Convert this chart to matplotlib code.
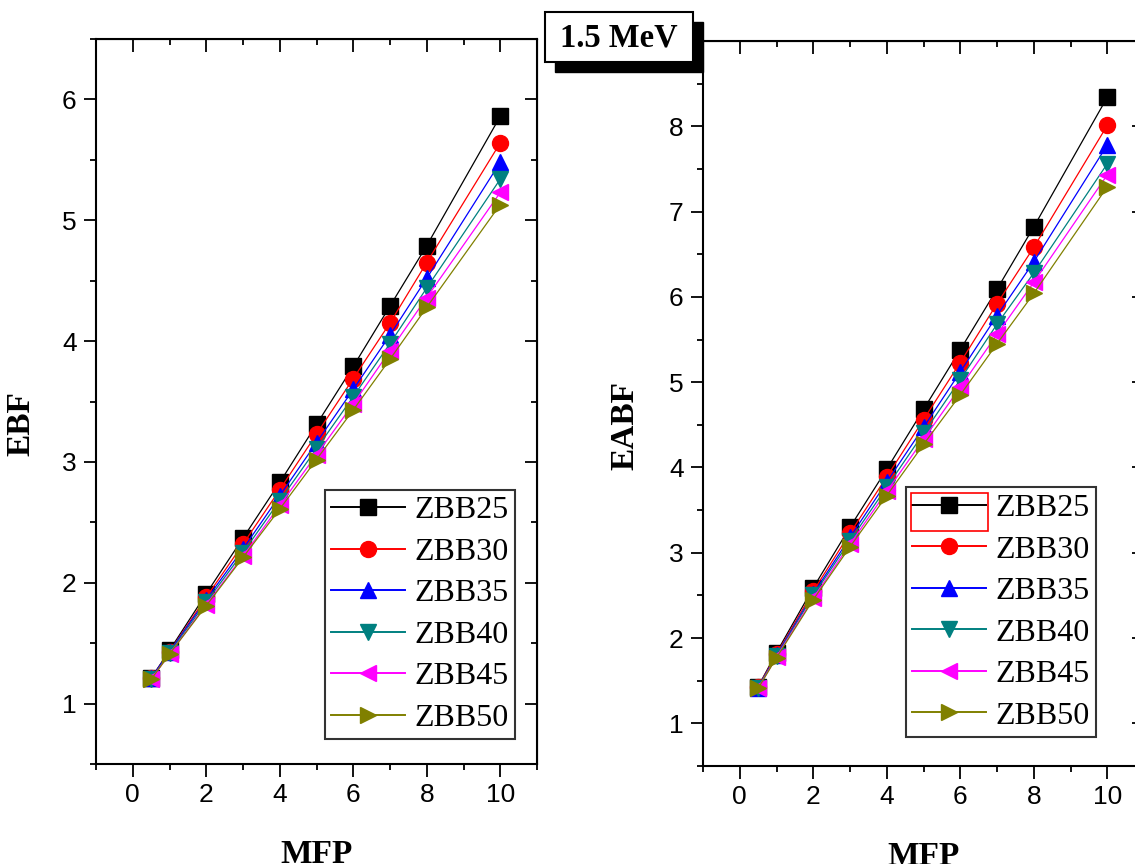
import matplotlib
matplotlib.use("Agg")
import matplotlib.pyplot as plt
from matplotlib.patches import Rectangle
from matplotlib.ticker import MultipleLocator

# data
mfp = [0.5, 1, 2, 3, 4, 5, 6, 7, 8, 10]
names = ['ZBB25', 'ZBB30', 'ZBB35', 'ZBB40', 'ZBB45', 'ZBB50']

ebf_zbb25 = [1.21, 1.44, 1.91, 2.37, 2.83, 3.31, 3.79, 4.29, 4.79, 5.86]
ebf_zbb30 = [1.21, 1.43, 1.88, 2.32, 2.77, 3.23, 3.69, 4.15, 4.65, 5.64]
ebf_zbb35 = [1.21, 1.43, 1.86, 2.28, 2.72, 3.16, 3.60, 4.05, 4.52, 5.48]
ebf_zbb40 = [1.20, 1.42, 1.84, 2.25, 2.68, 3.11, 3.54, 3.98, 4.44, 5.34]
ebf_zbb45 = [1.20, 1.41, 1.82, 2.22, 2.64, 3.06, 3.48, 3.92, 4.36, 5.23]
ebf_zbb50 = [1.20, 1.41, 1.81, 2.21, 2.61, 3.02, 3.43, 3.85, 4.28, 5.13]

eabf_zbb25 = [1.43, 1.83, 2.59, 3.30, 3.98, 4.68, 5.38, 6.09, 6.82, 8.34]
eabf_zbb30 = [1.43, 1.81, 2.55, 3.23, 3.89, 4.56, 5.23, 5.92, 6.58, 8.01]
eabf_zbb35 = [1.42, 1.80, 2.52, 3.18, 3.83, 4.47, 5.12, 5.78, 6.41, 7.78]
eabf_zbb40 = [1.42, 1.79, 2.50, 3.14, 3.77, 4.40, 5.03, 5.68, 6.28, 7.56]
eabf_zbb45 = [1.41, 1.78, 2.47, 3.10, 3.72, 4.33, 4.94, 5.56, 6.17, 7.43]
eabf_zbb50 = [1.41, 1.77, 2.45, 3.07, 3.67, 4.27, 4.85, 5.45, 6.04, 7.29]

colors = ['#000000', '#ff0000', '#0000ff', '#008080', '#ff00ff', '#808000']
markers = ['s', 'o', '^', 'v', '<', '>']

SERIF = 'Liberation Serif'
SANS = 'Liberation Sans'

fig = plt.figure(figsize=(11.35, 8.64), dpi=100)
W, H = 1135.0, 864.0

ax1 = fig.add_axes([96 / W, 1 - 764 / H, 441 / W, 725 / H])
ax2 = fig.add_axes([703 / W, 1 - 766 / H, 441 / W, 725 / H])


def style_axes(ax, ylim, ylabel, ylab_x):
    ax.set_xlim(-1, 11)
    ax.set_ylim(*ylim)
    ax.xaxis.set_major_locator(MultipleLocator(2))
    ax.xaxis.set_minor_locator(MultipleLocator(1))
    ax.yaxis.set_major_locator(MultipleLocator(1))
    ax.yaxis.set_minor_locator(MultipleLocator(0.5))
    for s in ax.spines.values():
        s.set_linewidth(1.5)
    ax.tick_params(which='both', direction='out', top=False, right=False,
                   width=1.3, labelsize=19, pad=5)
    ax.tick_params(which='major', length=9)
    ax.tick_params(which='minor', length=4.5)
    for lab in ax.get_xticklabels() + ax.get_yticklabels():
        lab.set_family(SANS)
    # inward ticks on top and right, no labels
    top = ax.secondary_xaxis('top')
    top.xaxis.set_major_locator(MultipleLocator(2))
    top.xaxis.set_minor_locator(MultipleLocator(1))
    top.tick_params(which='both', direction='in', width=1.3, labeltop=False)
    top.tick_params(which='major', length=9)
    top.tick_params(which='minor', length=4.5)
    right = ax.secondary_yaxis('right')
    right.yaxis.set_major_locator(MultipleLocator(1))
    right.yaxis.set_minor_locator(MultipleLocator(0.5))
    right.tick_params(which='both', direction='in', width=1.3, labelright=False)
    right.tick_params(which='major', length=9)
    right.tick_params(which='minor', length=4.5)
    ax.set_ylabel(ylabel, family=SERIF, fontweight='bold', fontsize=24)
    ax.yaxis.set_label_coords(ylab_x, 0.47)
    ax.set_xlabel('MFP', family=SERIF, fontweight='bold', fontsize=24)
    ax.xaxis.set_label_coords(0.5, -0.104)


ebf = [ebf_zbb25, ebf_zbb30, ebf_zbb35, ebf_zbb40, ebf_zbb45, ebf_zbb50]
eabf = [eabf_zbb25, eabf_zbb30, eabf_zbb35, eabf_zbb40, eabf_zbb45, eabf_zbb50]

for ax, series in [(ax1, ebf), (ax2, eabf)]:
    for vals, name, c, m in zip(series, names, colors, markers):
        ax.plot(mfp, vals, color=c, marker=m, markersize=11.5, linewidth=0.9,
                markeredgecolor=c, label=name, clip_on=False)

style_axes(ax1, (0.5, 6.5), 'EBF', -0.136)
style_axes(ax2, (0.5, 9.0), 'EABF', -0.141)

for ax, anchor in [(ax1, (0.950, 0.034)), (ax2, (0.891, 0.040))]:
    leg = ax.legend(loc='lower right', bbox_to_anchor=anchor, borderaxespad=0,
                    prop={'family': SERIF, 'size': 23}, frameon=True,
                    fancybox=False, edgecolor='black', handlelength=2.3,
                    labelspacing=0.38, handletextpad=0.3, borderpad=0.2)
    leg.get_frame().set_linewidth(1.5)
    for h in leg.legend_handles:
        h.set_linewidth(1.4)

# red selection box around the first legend handle on the right
fig.patches.append(Rectangle((911 / W, 1 - 531 / H), 77 / W, 38 / H,
                             transform=fig.transFigure, fill=False,
                             edgecolor='red', linewidth=1.2, zorder=10))

# title box with shadow
fig.patches.append(Rectangle((555 / W, 1 - 72 / H), 148 / W, 50 / H,
                             transform=fig.transFigure, facecolor='black',
                             edgecolor='black', zorder=10))
fig.patches.append(Rectangle((545 / W, 1 - 62 / H), 148 / W, 50 / H,
                             transform=fig.transFigure, facecolor='white',
                             edgecolor='black', linewidth=1.5, zorder=11))
fig.text(619 / W, 1 - 38 / H, '1.5 MeV', family=SERIF, fontweight='bold',
         fontsize=23.5, ha='center', va='center', zorder=12)

fig.savefig('out.png', dpi=100)
